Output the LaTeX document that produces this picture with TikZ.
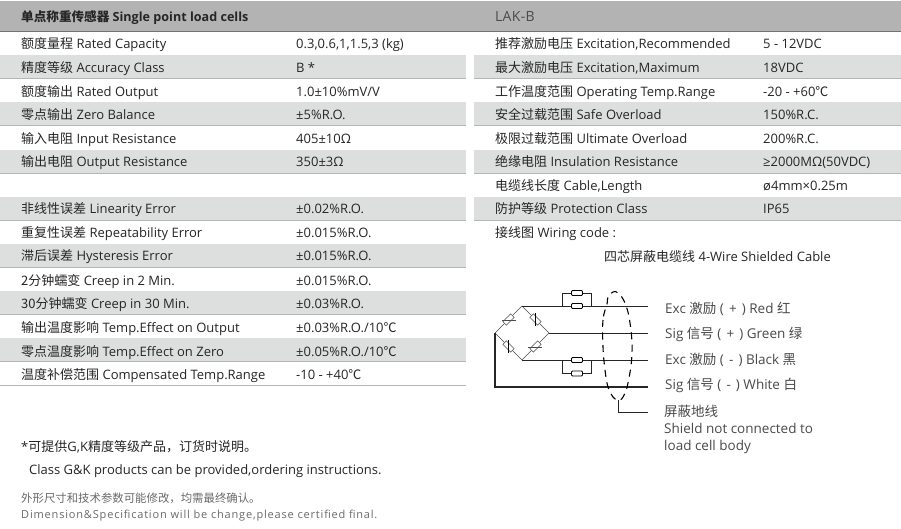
\documentclass[tikz,border=0pt]{standalone}
\usepackage{fontspec}
\setmainfont{Open Sans}
\newfontfamily\cjkfont{Noto Sans CJK SC}
\newcommand{\cn}[1]{{\cjkfont #1}}
\definecolor{band}{HTML}{DDDFDE}
\definecolor{rulec}{HTML}{B4B6B5}
\definecolor{head}{HTML}{B2B3B2}
\definecolor{ink}{HTML}{262626}
\definecolor{soft}{HTML}{4A4A4A}
\definecolor{foot}{HTML}{6A6A6A}
\tikzset{
 x=1pt,y=-1pt,
 lab/.style={anchor=base west,yshift=-5pt,inner sep=0pt,text=ink,font=\fontsize{13}{14}\selectfont},
 hdr/.style={lab,font=\fontsize{12.6}{14}\selectfont\bfseries},
 wire/.style={line width=0.9pt,draw=black!85},
 thin wire/.style={line width=0.5pt,draw=black!70},
 res/.style={draw=black,line width=0.9pt,fill=white,rounded corners=1pt,minimum width=11pt,minimum height=5pt,inner sep=0pt},
 strain/.style={draw=black!70,line width=0.5pt,fill=white,minimum width=11pt,minimum height=5pt,inner sep=0pt},
 wl/.style={lab,text=soft,font=\fontsize{13.5}{14}\selectfont},
 footl/.style={lab,text=foot,font=\fontsize{11}{11}\selectfont},
}
\newcommand{\bandL}[2]{\fill[band] (0,#1) rectangle (466,#2); \draw[rulec,line width=.8pt] (0,#2) -- (466,#2);}
\newcommand{\bandR}[2]{\fill[band] (474,#1) rectangle (901,#2); \draw[rulec,line width=.8pt] (474,#2) -- (901,#2);}
\newcommand{\rowL}[4]{\node[lab] at (21,#1) {\cn{#2} #3}; \node[lab] at (296,#1) {#4};}
\newcommand{\rowR}[4]{\node[lab] at (495,#1) {\cn{#2} #3}; \node[lab] at (763,#1) {#4};}
\newcommand{\sg}[1]{(\kern1.6pt\ #1\kern1.6pt\ )}
\begin{document}
\begin{tikzpicture}
\useasboundingbox (0,0) rectangle (901,528);
\fill[white] (0,0) rectangle (901,528);
\fill[head] (0,1) rectangle (901,31);
\draw[black!55,line width=.8pt] (0,31.5) -- (901,31.5);
\bandL{55}{78.5}\bandL{102}{125.5}\bandL{150}{173.5}
\bandL{197}{220.5}\bandL{244}{267.5}\bandL{291}{314.5}\bandL{338}{361.5}
\draw[rulec,line width=.8pt] (0,385.5) -- (466,385.5);
\bandR{55}{78.5}\bandR{102}{125.5}\bandR{150}{173.5}\bandR{197}{220.5}
\node[hdr] at (21,16) {\cn{单点称重传感器} Single point load cells};
\node[lab,text=soft,font=\fontsize{14}{14}\selectfont] at (495,16) {\addfontfeatures{LetterSpace=2}LAK-B};
\rowL{43}{额度量程}{Rated Capacity}{0.3,0.6,1,1.5,3 (kg)}
\rowL{67}{精度等级}{Accuracy Class}{B *}
\rowL{91}{额度输出}{Rated Output}{1.0±10\%mV/V}
\rowL{114}{零点输出}{Zero Balance}{±5\%R.O.}
\rowL{138}{输入电阻}{Input Resistance}{405±10Ω}
\rowL{161}{输出电阻}{Output Resistance}{350±3Ω}
\rowL{208}{非线性误差}{Linearity Error}{±0.02\%R.O.}
\rowL{232}{重复性误差}{Repeatability Error}{±0.015\%R.O.}
\rowL{255}{滞后误差}{Hysteresis Error}{±0.015\%R.O.}
\rowL{280}{2分钟蠕变}{Creep in 2 Min.}{±0.015\%R.O.}
\rowL{303}{30分钟蠕变}{Creep in 30 Min.}{±0.03\%R.O.}
\rowL{327}{输出温度影响}{Temp.Effect on Output}{±0.03\%R.O./10\cn{℃}}
\rowL{351}{零点温度影响}{Temp.Effect on Zero}{±0.05\%R.O./10\cn{℃}}
\rowL{374}{温度补偿范围}{Compensated Temp.Range}{-10 - +40\cn{℃}}
\rowR{43}{推荐激励电压}{Excitation,Recommended}{5 - 12VDC}
\rowR{67}{最大激励电压}{Excitation,Maximum}{18VDC}
\rowR{91}{工作温度范围}{Operating Temp.Range}{-20 - +60\cn{℃}}
\rowR{114}{安全过载范围}{Safe Overload}{150\%R.C.}
\rowR{138}{极限过载范围}{Ultimate Overload}{200\%R.C.}
\rowR{161}{绝缘电阻}{Insulation Resistance}{≥2000MΩ(50VDC)}
\rowR{185}{电缆线长度}{Cable,Length}{ø4mm×0.25m}
\rowR{208}{防护等级}{Protection Class}{IP65}
\node[lab] at (495,232) {\cn{接线图} Wiring code :};
\node[lab] at (604,256) {\cn{四芯屏蔽电缆线} 4-Wire Shielded Cable};
% diagram
\coordinate (L) at (495,333);
\coordinate (T) at (522,306);
\coordinate (R) at (549,333);
\coordinate (B) at (522,360);
\coordinate (e1) at (648,306);
\coordinate (e2) at (648,333);
\coordinate (e3) at (648,360);
\coordinate (e4) at (648,387);
\node[wl] (t1) at (665,308) {Exc \cn{激励} \sg{+} Red \cn{红}};
\node[wl] (t2) at (665,333) {Sig \cn{信号} \sg{+} Green \cn{绿}};
\node[wl] (t3) at (665,359) {Exc \cn{激励} \sg{-} Black \cn{黑}};
\node[wl] (t4) at (665,384) {Sig \cn{信号} \sg{-} White \cn{白}};
\node[wl] (t5) at (664,411) {\cn{屏蔽地线}};
\node[wl] (t6) at (664,428) {Shield not connected to};
\node[wl] (t7) at (664,445) {load cell body};
\draw[thin wire] (L) -- (T) -- (R) -- (B) -- (L);
\draw[wire] (T) -- (e1);
\draw[wire] (R) -- (e2);
\draw[wire] (B) -- (e3);
\draw[wire,line width=1.1pt] (L) -- (495,387) -- (e4);
\node[res] (r1) at (577,293) {};
\node[res] (r2) at (577,306) {};
\node[res] (r3) at (577,360) {};
\node[res] (r4) at (577,373.5) {};
\draw[wire] (562,306) -- (562,293) -- (r1) (r1) -- (591,293) -- (591,306);
\draw[wire] (562,360) -- (562,373.5) -- (r4) (r4) -- (591,373.5) -- (591,360);
\node[strain,rotate=45] (s1) at (508.5,319.5) {};
\node[strain,rotate=-45] (s2) at (535.5,319.5) {};
\node[strain,rotate=-45] (s3) at (508.5,346.5) {};
\node[strain,rotate=45] (s4) at (535.5,346.5) {};
\draw[thin wire] (502,320) -- (516,320) (528,347) -- (542,347);
\draw[line width=.8pt,black] (535,313) -- (535,326) (508.5,340) -- (508.5,353);
\draw[line width=1.1pt,black,dash pattern=on 7pt off 5.5pt] plot[smooth cycle,tension=.7] coordinates {(607,304) (603,320) (603,347) (605,370) (608,387) (613,397) (618,400) (623,397) (628,383) (632,353) (630,323) (625,303) (618,293) (613,292) (608,297)};
\coordinate (sh) at (648,412.5);
\coordinate (sb) at (618,400);
\draw[wire] (sb) -- (618,412.5) -- (sh);
% notes
\node[lab] at (21,446) {*\cn{可提供}G,K\cn{精度等级产品，订货时说明。}};
\node[lab] at (29,469) {Class G\&K products can be provided,ordering instructions.};
\node[footl,font=\fontsize{11.4}{11}\selectfont] at (21,497) {\cn{外形尺寸和技术参数可能修改，均需最终确认。}};
\node[footl] at (21,513) {\addfontfeatures{LetterSpace=7.5}Dimension\&Specification will be change,please certified final.};
\end{tikzpicture}
\end{document}
